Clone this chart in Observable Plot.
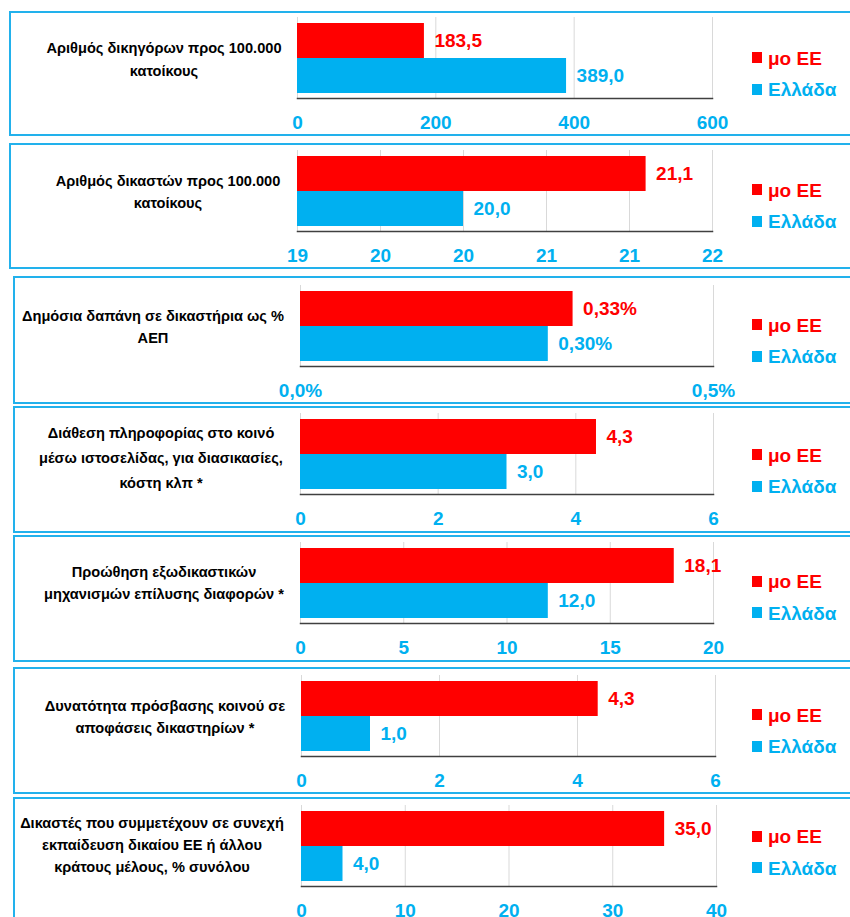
<!DOCTYPE html>
<html><head><meta charset="utf-8">
<script src="https://cdn.jsdelivr.net/npm/d3@7"></script>
<script src="https://cdn.jsdelivr.net/npm/@observablehq/plot@0.6"></script>
<style>
body{margin:0;background:#fff;font-family:"Liberation Sans",Arial,sans-serif;}
#page{position:relative;width:850px;height:917px;overflow:hidden;}
.box{position:absolute;border:2px solid #22B1EC;box-sizing:border-box;}
.lbl{position:absolute;width:320px;text-align:center;font-weight:bold;font-size:14.6px;color:#000;white-space:nowrap;}
.leg{position:absolute;font-weight:bold;font-size:19px;line-height:19px;white-space:nowrap;height:19px;}
.sw{position:absolute;left:0;top:3.5px;width:10px;height:11px;}
.lt{position:absolute;left:16px;top:0;}
svg.panel{position:absolute;left:0;overflow:visible;}
</style></head><body><div id="page"></div>
<script>
// ---- data ----
const series = ["μο ΕΕ", "Ελλάδα"];
const seriesColors = ["#FF0000", "#00B0F0"];
const indicators = [
  ["Αριθμός δικηγόρων προς 100.000", "κατοίκους"],
  ["Αριθμός δικαστών προς 100.000", "κατοίκους"],
  ["Δημόσια δαπάνη σε δικαστήρια ως %", "ΑΕΠ"],
  ["Διάθεση πληροφορίας στο κοινό", "μέσω ιστοσελίδας, για διασικασίες,", "κόστη κλπ *"],
  ["Προώθηση εξωδικαστικών", "μηχανισμών επίλυσης διαφορών *"],
  ["Δυνατότητα πρόσβασης κοινού σε", "αποφάσεις δικαστηρίων *"],
  ["Δικαστές που συμμετέχουν σε συνεχή", "εκπαίδευση δικαίου ΕΕ ή άλλου", "κράτους μέλους,  % συνόλου"]
];
const euAverage = [183.5, 21.1, 0.33, 4.3, 18.1, 4.3, 35.0];
const greece    = [389.0, 20.0, 0.30, 3.0, 12.0, 1.0, 4.0];
const valueDecimals = [1, 1, 2, 1, 1, 1, 1];
const valueSuffix = ["", "", "%", "", "", "", ""];
const axisDomains = [[0, 600], [19, 21.5], [0, 0.5], [0, 6], [0, 20], [0, 6], [0, 40]];
const axisTicks = [
  [0, 200, 400, 600],
  [19, 19.5, 20, 20.5, 21, 21.5],
  [0, 0.5],
  [0, 2, 4, 6],
  [0, 5, 10, 15, 20],
  [0, 2, 4, 6],
  [0, 10, 20, 30, 40]
];
const tickLabels = [
  ["0", "200", "400", "600"],
  ["19", "20", "20", "21", "21", "22"],
  ["0,0%", "0,5%"],
  ["0", "2", "4", "6"],
  ["0", "5", "10", "15", "20"],
  ["0", "2", "4", "6"],
  ["0", "10", "20", "30", "40"]
];

// ---- layout (positions only) ----
const layout = [
  {bx:10, bt:12,  bb:135, grid:17,  x:[297,712], lx:164, ly:48.3,  lh:22.7, legY:65},
  {bx:10, bt:144, bb:268, grid:150, x:[297,712], lx:168, ly:181.7, lh:21.7, legY:197},
  {bx:14, bt:277, bb:403, grid:285, x:[300,713], lx:153, ly:316.7, lh:21.7, legY:332},
  {bx:14, bt:407, bb:532, grid:413, x:[300,713], lx:161, ly:433.3, lh:25,   legY:462},
  {bx:14, bt:536, bb:661, grid:542, x:[300,713], lx:164, ly:573.3, lh:21.7, legY:588.5},
  {bx:14, bt:668, bb:793, grid:675, x:[301,715], lx:165, ly:706.7, lh:21.7, legY:722},
  {bx:14, bt:798, bb:930, grid:805, x:[301,716], lx:152, ly:823.3, lh:22,   legY:843.5}
];

const page = document.getElementById("page");
const fmt = (v, i) => v.toFixed(valueDecimals[i]).replace(".", ",") + valueSuffix[i];
const FONT = "'Liberation Sans', Arial, sans-serif";

indicators.forEach((lines, i) => {
  const L = layout[i];
  // box
  const box = document.createElement("div");
  box.className = "box";
  box.style.left = (L.bx - 1) + "px";
  box.style.top = (L.bt - 1) + "px";
  box.style.width = (870 - L.bx) + "px";
  box.style.height = (L.bb - L.bt + 2) + "px";
  page.appendChild(box);

  // label
  lines.forEach((t, k) => {
    const d = document.createElement("div");
    d.className = "lbl";
    d.textContent = t;
    d.style.left = (L.lx - 160) + "px";
    d.style.top = (L.ly - L.lh / 2 + k * L.lh) + "px";
    d.style.lineHeight = L.lh + "px";
    page.appendChild(d);
  });

  // chart
  const base = axisDomains[i][0];
  const data = series.map((s, j) => {
    const v = [euAverage, greece][j][i];
    return {series: s, value: v, base, label: fmt(v, i)};
  });
  const H = 81, MB = 40;
  const tf = d => tickLabels[i][axisTicks[i].indexOf(d)];
  const svg = Plot.plot({
    width: 850,
    height: H + MB,
    marginLeft: L.x[0],
    marginRight: 850 - L.x[1],
    marginTop: 0,
    marginBottom: MB,
    style: {fontFamily: FONT, overflow: "visible", background: "transparent"},
    x: {domain: axisDomains[i], label: null},
    y: {domain: series, range: [5, 76.5], padding: 0, axis: null},
    color: {domain: series, range: seriesColors},
    marks: [
      Plot.gridX(axisTicks[i], {stroke: "#D9D9D9", strokeOpacity: 1, strokeWidth: 1}),
      Plot.barX(data, {x1: "base", x2: "value", y: "series", fill: "series"}),
      Plot.frame({anchor: "bottom", stroke: "#404040", strokeWidth: 1.5}),
      Plot.axisX(axisTicks[i], {anchor: "bottom", tickSize: 0, tickPadding: 17, fontSize: 19, fontWeight: "bold", fill: "#00B0F0", tickFormat: tf, label: null}),
      Plot.text(data, {x: "value", y: "series", text: "label", dx: 10, textAnchor: "start", fontSize: 19, fontWeight: "bold", fill: "series"})
    ]
  });
  svg.classList.add("panel");
  svg.style.top = L.grid + "px";
  page.appendChild(svg);

  // legend
  series.forEach((s, k) => {
    const row = document.createElement("div");
    row.className = "leg";
    row.style.left = "752px";
    row.style.top = (L.legY + k * 31.5 - 16.1) + "px";
    row.style.color = seriesColors[k];
    const sw = document.createElement("span");
    sw.className = "sw";
    sw.style.background = seriesColors[k];
    const t = document.createElement("span");
    t.className = "lt";
    t.textContent = s;
    row.appendChild(sw);
    row.appendChild(t);
    page.appendChild(row);
  });
});
</script>
</body></html>
